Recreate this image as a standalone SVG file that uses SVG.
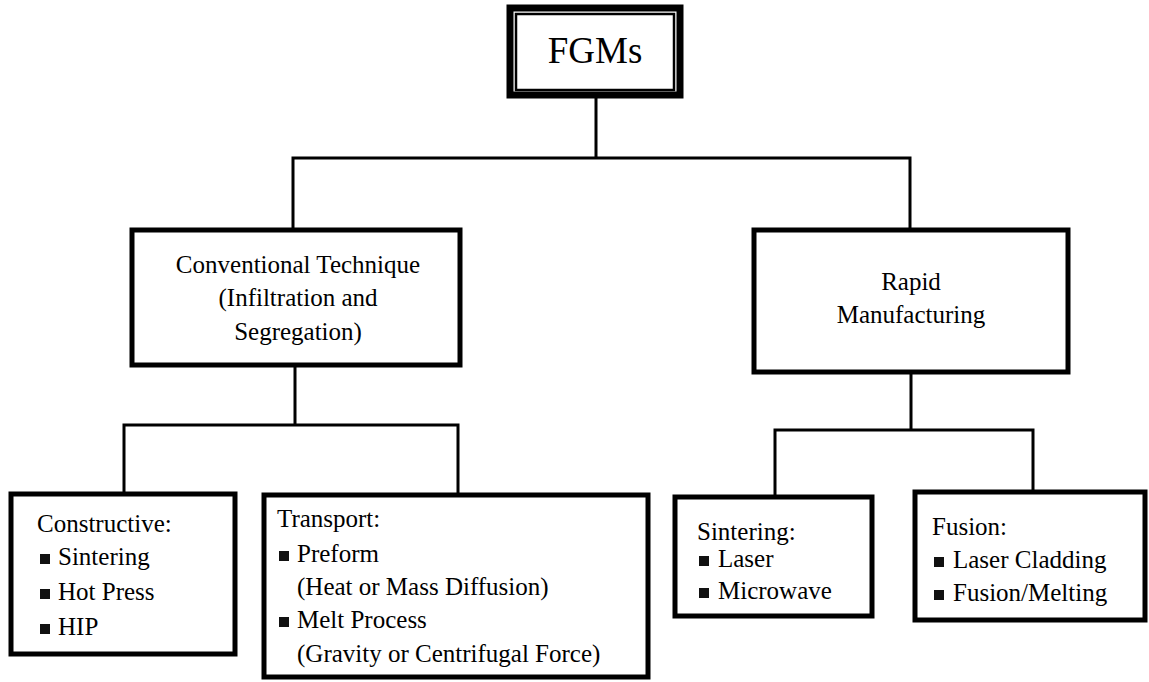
<svg xmlns="http://www.w3.org/2000/svg" width="1149" height="682" viewBox="0 0 1149 682">
<style>
text{font-family:"Liberation Serif","Times New Roman",serif;font-size:25px;fill:#000}
.c{text-anchor:middle}
.box{fill:#fff;stroke:#000;stroke-width:5}
.ln{fill:none;stroke:#000;stroke-width:3;stroke-linecap:square}
.b{fill:#111}
</style>
<rect width="1149" height="682" fill="#fff"/>
<g id="connectors">
<path class="ln" d="M596,98 V158 M293,158 H910 M293,158 V228 M910,158 V228"/>
<path class="ln" d="M295,367 V425 M124,425 H458 M124,425 V492 M458,425 V493"/>
<path class="ln" d="M911,374 V430 M775,430 H1033 M775,430 V495 M1033,430 V490"/>
</g>
<g id="fgms">
<rect x="510" y="8" width="170" height="87" fill="#fff" stroke="#000" stroke-width="7"/>
<rect x="516" y="14" width="158" height="76" fill="none" stroke="#000" stroke-width="2.5"/>
<text class="c" x="595" y="63" style="font-size:37px">FGMs</text>
</g>
<g id="conventional">
<rect class="box" x="132" y="230" width="328" height="135"/>
<text class="c" x="298" y="273">Conventional Technique</text>
<text class="c" x="298" y="306">(Infiltration and</text>
<text class="c" x="298" y="340">Segregation)</text>
</g>
<g id="rapid">
<rect class="box" x="754" y="230" width="314" height="142"/>
<text class="c" x="911" y="290">Rapid</text>
<text class="c" x="911" y="323">Manufacturing</text>
</g>
<g id="constructive">
<rect class="box" x="11" y="494" width="224" height="160"/>
<text x="37" y="532">Constructive:</text>
<rect class="b" x="40" y="554" width="10" height="10"/><text x="58" y="565">Sintering</text>
<rect class="b" x="40" y="589" width="10" height="10"/><text x="58" y="600">Hot Press</text>
<rect class="b" x="40" y="624" width="10" height="10"/><text x="58" y="635">HIP</text>
</g>
<g id="transport">
<rect class="box" x="264" y="495" width="384" height="182"/>
<text x="277" y="527">Transport:</text>
<rect class="b" x="279" y="551" width="10" height="10"/><text x="297" y="562">Preform</text>
<text x="297" y="595">(Heat or Mass Diffusion)</text>
<rect class="b" x="279" y="617" width="10" height="10"/><text x="297" y="628">Melt Process</text>
<text x="297" y="662">(Gravity or Centrifugal Force)</text>
</g>
<g id="sintering">
<rect class="box" x="675" y="497" width="197" height="119"/>
<text x="697" y="540">Sintering:</text>
<rect class="b" x="699" y="556" width="10" height="10"/><text x="718" y="567">Laser</text>
<rect class="b" x="699" y="588" width="10" height="10"/><text x="718" y="599">Microwave</text>
</g>
<g id="fusion">
<rect class="box" x="915" y="492" width="230" height="128"/>
<text x="932" y="535">Fusion:</text>
<rect class="b" x="934" y="557" width="10" height="10"/><text x="953" y="568">Laser Cladding</text>
<rect class="b" x="934" y="590" width="10" height="10"/><text x="953" y="601">Fusion/Melting</text>
</g>
</svg>
